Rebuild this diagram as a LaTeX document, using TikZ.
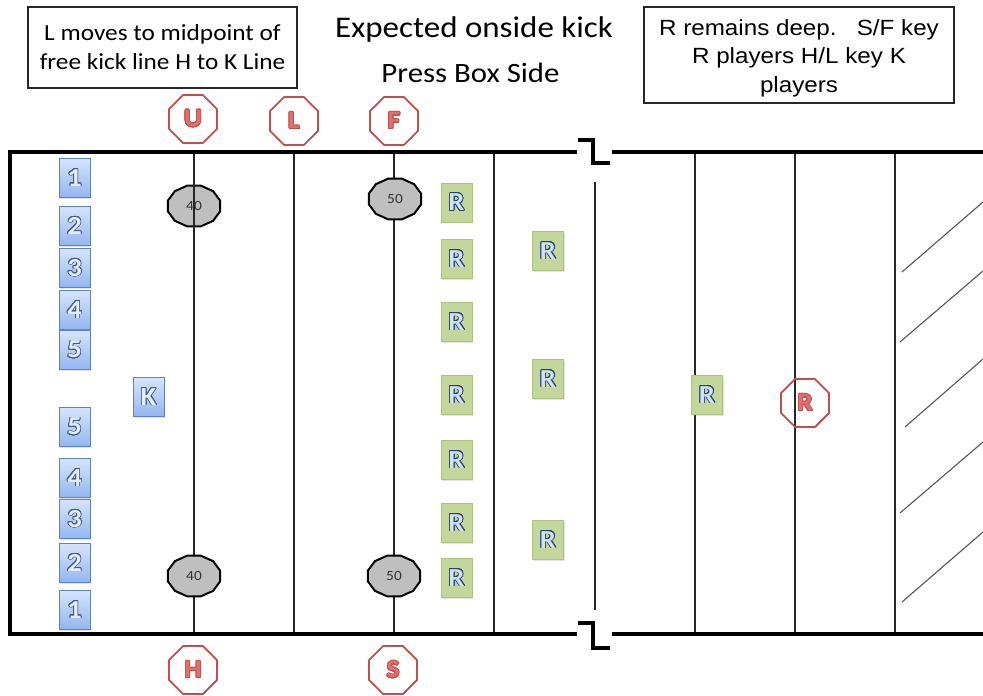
\documentclass[tikz,border=0pt]{standalone}
\usepackage{fontspec}
\setmainfont{Carlito}[FakeStretch=1.1]
\newfontfamily\arialfont{Liberation Sans}[FakeStretch=1.1]
\usepackage{contour}
\contourlength{0.75pt}
\contournumber{24}
\usetikzlibrary{shapes.geometric,shadows}

\definecolor{octred}{RGB}{192,80,77}
\definecolor{octfill}{RGB}{226,112,106}
\definecolor{bluetop}{RGB}{214,228,252}
\definecolor{bluebot}{RGB}{146,182,240}
\definecolor{blueedge}{RGB}{95,130,190}
\definecolor{numfill}{RGB}{228,238,252}
\definecolor{numline}{RGB}{70,92,135}
\definecolor{greenfill}{RGB}{196,215,155}
\definecolor{greenedge}{RGB}{172,196,128}
\definecolor{rfill}{RGB}{208,226,246}
\definecolor{rline}{RGB}{40,65,112}
\definecolor{markgray}{RGB}{191,191,191}
\definecolor{hatchgray}{RGB}{85,85,85}

\newcommand\kicknum[1]{\contour{numline}{#1}}
\newcommand\recvnum[1]{\contour{rline}{#1}}
\newcommand\offletter[1]{\contour{octred}{#1}}

\tikzset{
  fieldedge/.style={line width=3.2pt, black},
  yardline/.style={line width=1.1pt, black!85},
  hatchline/.style={line width=1.1pt, hatchgray},
  kplayer/.style={rectangle, draw=blueedge, line width=0.8pt,
    top color=bluetop, bottom color=bluebot,
    minimum width=31pt, minimum height=39pt, inner sep=0pt,
    text=numfill, font=\fontsize{26}{26}\selectfont\bfseries,
    drop shadow={opacity=0.22, shadow xshift=1.2pt, shadow yshift=-1.2pt}},
  rplayer/.style={rectangle, draw=greenedge, line width=0.8pt,
    fill=greenfill, minimum width=31pt, minimum height=39pt, inner sep=0pt,
    text=rfill, font=\fontsize{26}{26}\selectfont\bfseries,
    drop shadow={opacity=0.22, shadow xshift=1.2pt, shadow yshift=-1.2pt}},
  official/.style={regular polygon, regular polygon sides=8,
    minimum size=52pt, inner sep=0pt, draw=octred, line width=1.8pt,
    fill=white, text=octfill, font=\fontsize{25}{25}\selectfont\bfseries},
  marklabel/.style={inner sep=0pt, text=black!80, font=\fontsize{14}{14}\selectfont},
  markshape/.style={fill=markgray, draw=black, line width=2pt},
  noteframe/.style={rectangle, draw=black!85, line width=1.4pt, fill=white,
    inner sep=0pt},
  notetext/.style={align=center, inner sep=0pt},
}

\begin{document}
\begin{tikzpicture}[x=1pt, y=-1pt]
\useasboundingbox (0,0) rectangle (983,696);

% yard markers (the 40 near the top sits under its yard line)
\coordinate (m40top) at (194,206);
\coordinate (m50top) at (395,199);
\coordinate (m40bot) at (194,576);
\coordinate (m50bot) at (394,576);
\path[markshape, shift={(m40top)}]
  plot[samples at={15,45,...,345}] ({27*cos(\x)},{21*sin(\x)}) -- cycle;
\node[marklabel] (l40top) at (m40top) {40};

% yard lines
\foreach \yx in {194,294,394,494,695,795,895}
  \draw[yardline] (\yx,152) -- (\yx,634);
\draw[yardline] (595,182) -- (595,610);

% field edges with break marks
\draw[fieldedge] (10,150.4) -- (10,635.6);
\draw[fieldedge] (10,152) -- (577,152);
\draw[fieldedge] (612,152) -- (983,152);
\draw[fieldedge] (578,140) -- (593,140) -- (593,163) -- (610,163);
\draw[fieldedge] (10,634) -- (577,634);
\draw[fieldedge] (612,634) -- (983,634);
\draw[fieldedge] (578,623) -- (593,623) -- (593,648) -- (610,648);

% end zone hatching
\draw[hatchline] (902,272) -- (983,202);
\draw[hatchline] (900,342) -- (983,271);
\draw[hatchline] (905,427) -- (983,359);
\draw[hatchline] (900,513) -- (983,442);
\draw[hatchline] (902,602) -- (983,532);

% remaining yard markers
\foreach \mk in {m50top, m40bot, m50bot}
  \path[markshape, shift={(\mk)}]
    plot[samples at={15,45,...,345}] ({27*cos(\x)},{21*sin(\x)}) -- cycle;
\node[marklabel] (l50top) at (m50top) {50};
\node[marklabel] (l40bot) at (m40bot) {40};
\node[marklabel] (l50bot) at (m50bot) {50};

% kicking team
\node[kplayer] (k1a) at (74.5,178) {\kicknum{1}};
\node[kplayer] (k2a) at (74.5,226) {\kicknum{2}};
\node[kplayer] (k3a) at (74.5,268) {\kicknum{3}};
\node[kplayer] (k4a) at (74.5,310) {\kicknum{4}};
\node[kplayer] (k5a) at (74.5,350) {\kicknum{5}};
\node[kplayer] (kk)  at (148.5,397) {\kicknum{K}};
\node[kplayer] (k5b) at (74.5,427) {\kicknum{5}};
\node[kplayer] (k4b) at (74.5,478) {\kicknum{4}};
\node[kplayer] (k3b) at (74.5,519) {\kicknum{3}};
\node[kplayer] (k2b) at (74.5,563) {\kicknum{2}};
\node[kplayer] (k1b) at (74.5,610) {\kicknum{1}};

% receiving team
\node[rplayer] (r1) at (456.5,202.5) {\recvnum{R}};
\node[rplayer] (r2) at (456.5,259) {\recvnum{R}};
\node[rplayer] (r3) at (456.5,322) {\recvnum{R}};
\node[rplayer] (r4) at (456.5,395) {\recvnum{R}};
\node[rplayer] (r5) at (456.5,460) {\recvnum{R}};
\node[rplayer] (r6) at (456.5,523) {\recvnum{R}};
\node[rplayer] (r7) at (456.5,578) {\recvnum{R}};
\node[rplayer] (r8) at (548,251) {\recvnum{R}};
\node[rplayer] (r9) at (548,379) {\recvnum{R}};
\node[rplayer] (r10) at (548,540) {\recvnum{R}};
\node[rplayer] (rdeep) at (707,395) {\recvnum{R}};

% officials
\node[official] (offU) at (193,119) {\offletter{U}};
\node[official] (offL) at (294,121) {\offletter{L}};
\node[official] (offF) at (394,121) {\offletter{F}};
\node[official] (offH) at (193,670) {\offletter{H}};
\node[official] (offS) at (393,670) {\offletter{S}};
\node[official, fill=none] (offR) at (805,403) {\offletter{R}};

% titles
\node[inner sep=0pt, anchor=base, font=\fontsize{30}{30}\selectfont] (title)
  at (474,37) {Expected onside kick};
\node[inner sep=0pt, anchor=base, font=\fontsize{28}{28}\selectfont] (side)
  at (470.5,82) {Press Box Side};

% note boxes (text anchored at the baseline of its last line)
\node[noteframe, minimum width=269pt, minimum height=81pt] (noteL) at (162.5,47.5) {};
\node[notetext, anchor=base, font=\fontsize{23}{29}\selectfont] (noteLtext)
  at (162.5,69) {L moves to midpoint of\\free kick line H to K Line};
\node[noteframe, minimum width=310pt, minimum height=96pt] (noteR) at (799,55) {};
\node[notetext, anchor=base, font=\arialfont\fontsize{22}{28.5}\selectfont] (noteRtext)
  at (799,92) {R remains deep.\ \ \ S/F key\\R players H/L key K\\players};
\end{tikzpicture}
\end{document}
